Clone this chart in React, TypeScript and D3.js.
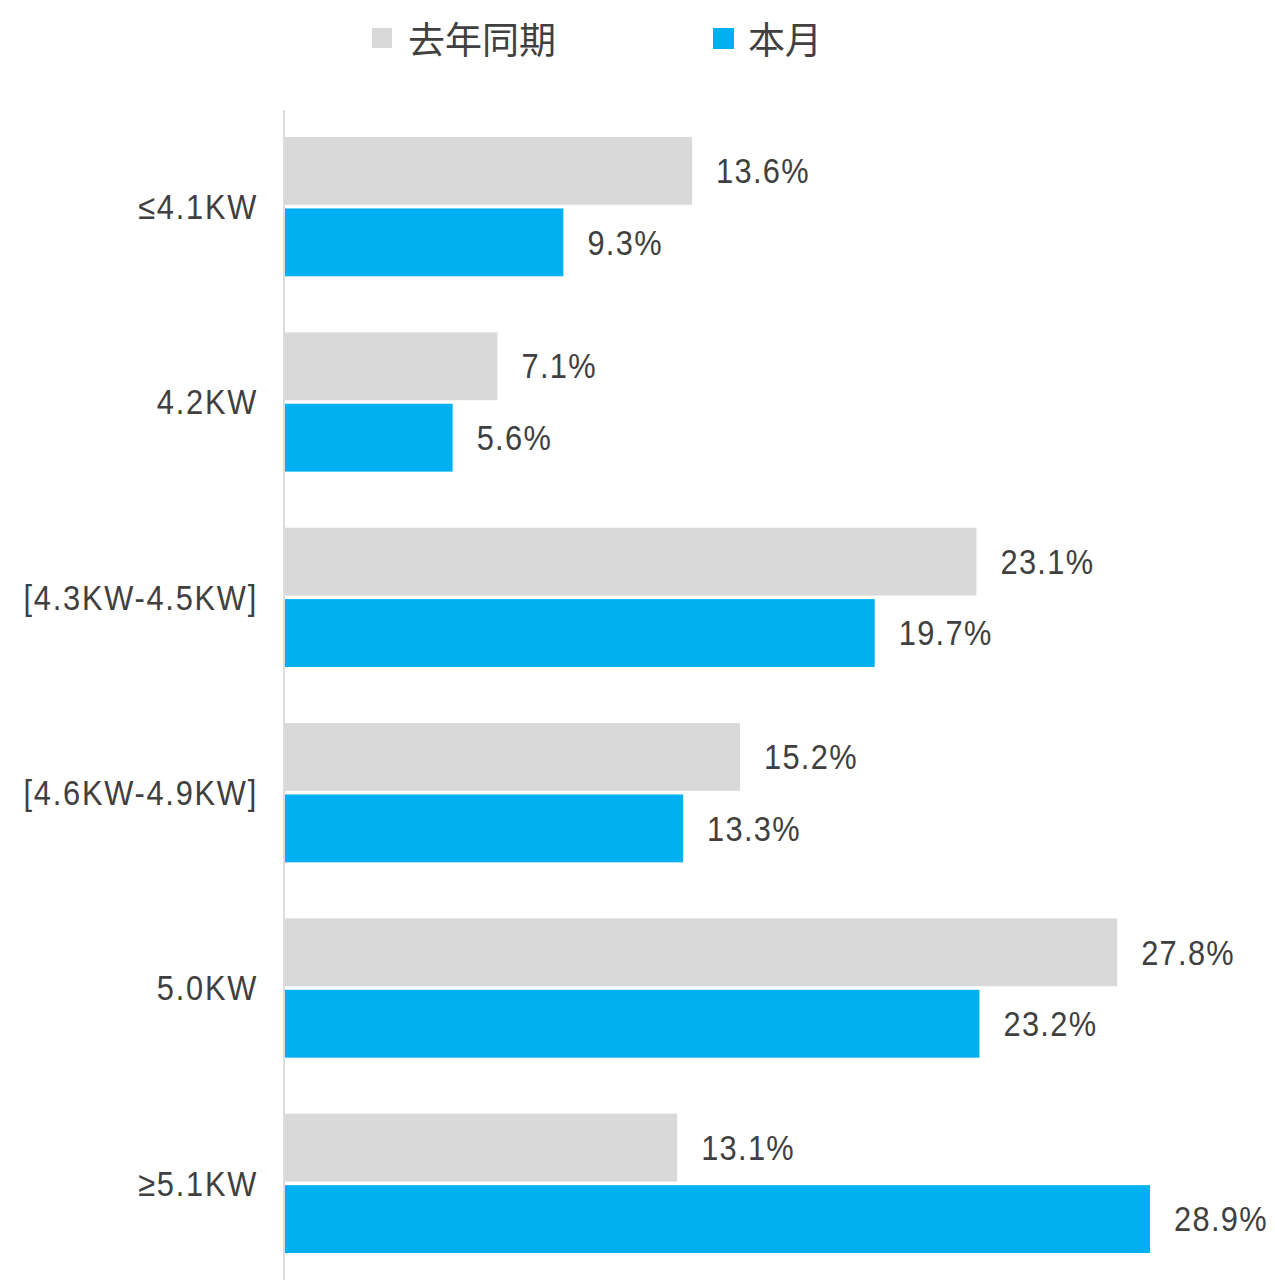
import React from "react";
import * as d3 from "d3";

const categories = ["≤4.1KW", "4.2KW", "[4.3KW-4.5KW]", "[4.6KW-4.9KW]", "5.0KW", "≥5.1KW"];
const seriesNames = ["去年同期", "本月"];
const lastYear = [13.6, 7.1, 23.1, 15.2, 27.8, 13.1];
const thisMonth = [9.3, 5.6, 19.7, 13.3, 23.2, 28.9];
const colors = ["#d9d9d9", "#00b0f0"];

const W = 1275;
const H = 1280;
const textColor = "#404040";
const numFont = "'Liberation Sans', Arial, sans-serif";
const cjkFont = "'Noto Sans CJK SC', 'Noto Sans', sans-serif";
const SX = 0.88;

export default function App() {
  const x = d3.scaleLinear().domain([0, 30]).range([285, 1183]);
  const y = d3.scaleBand<string>().domain(categories).range([137, 1253]).paddingInner(0.287).paddingOuter(0);
  const sub = d3.scaleBand<string>().domain(seriesNames).range([0, y.bandwidth()]).paddingInner(0.05);
  const fmt = (v: number) => `${d3.format(".1f")(v)}%`;
  const series = [lastYear, thisMonth];

  return (
    <svg width={W} height={H} style={{ position: "absolute", left: 0, top: 0, background: "#fff" }}>
      <rect width={W} height={H} fill="#fff" />
      {/* legend */}
      <g>
        <rect x={372} y={28} width={20} height={20} fill={colors[0]} />
        <text x={408} y={38} dominantBaseline="central" fontFamily={cjkFont} fontSize={37} fill={textColor}>
          {seriesNames[0]}
        </text>
        <rect x={713} y={28} width={21} height={21} fill={colors[1]} />
        <text x={748} y={38} dominantBaseline="central" fontFamily={cjkFont} fontSize={37} fill={textColor}>
          {seriesNames[1]}
        </text>
      </g>
      {/* axis line */}
      <line x1={284} x2={284} y1={110} y2={1280} stroke="#d0d0d0" strokeWidth={1.5} />
      {categories.map((c, i) => {
        const gy = y(c)!;
        return (
          <g key={c}>
            <text
              transform={`translate(258,${gy + y.bandwidth() / 2}) scale(${SX},1)`}
              textAnchor="end"
              dominantBaseline="central"
              fontFamily={numFont}
              fontSize={35}
              letterSpacing={2}
              fill={textColor}
            >
              {c}
            </text>
            {series.map((s, j) => {
              const by = gy + sub(seriesNames[j])!;
              const bh = sub.bandwidth();
              return (
                <g key={j}>
                  <rect x={x(0)} y={by} width={x(s[i]) - x(0)} height={bh} fill={colors[j]} />
                  <text
                    transform={`translate(${x(s[i]) + 24},${by + bh / 2}) scale(${SX},1)`}
                    dominantBaseline="central"
                    fontFamily={numFont}
                    fontSize={35}
                    letterSpacing={1.5}
                    fill={textColor}
                  >
                    {fmt(s[i])}
                  </text>
                </g>
              );
            })}
          </g>
        );
      })}
    </svg>
  );
}
